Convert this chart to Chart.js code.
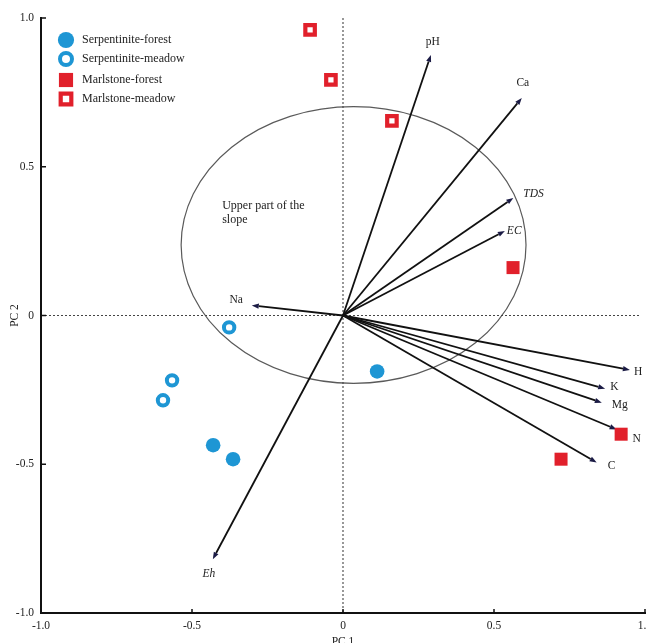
<!DOCTYPE html>
<html>
<head>
<meta charset="utf-8">
<script src="https://cdn.jsdelivr.net/npm/chart.js@4.4.1/dist/chart.umd.min.js"></script>
<style>
  html, body { margin: 0; padding: 0; background: #fff; }
  #wrap { width: 646px; height: 643px; position: relative; }
</style>
</head>
<body>
<div id="wrap"><canvas id="pca"></canvas></div>
<script>
// Axis ticks
const tickValues = [-1, -0.5, 0, 0.5, 1];
const tickLabels = ['-1.0', '-0.5', '0', '0.5', '1.0'];

// Sample scores (PC 1, PC 2)
const serpForestPC1 = [0.113, -0.430, -0.364];
const serpForestPC2 = [-0.188, -0.436, -0.483];
const serpMeadowPC1 = [-0.377, -0.566, -0.596];
const serpMeadowPC2 = [-0.040, -0.218, -0.285];
const marlForestPC1 = [0.563, 0.921, 0.722];
const marlForestPC2 = [0.161, -0.399, -0.483];
const marlMeadowPC1 = [-0.109, -0.040, 0.162];
const marlMeadowPC2 = [0.960, 0.792, 0.654];

// Variable loadings drawn as arrows from the origin
const loadingNames = ['pH', 'Ca', 'TDS', 'EC', 'H', 'K', 'Mg', 'N', 'C', 'Na', 'Eh'];
const loadingPC1 = [0.291, 0.592, 0.564, 0.536, 0.950, 0.868, 0.857, 0.906, 0.840, -0.302, -0.431];
const loadingPC2 = [0.876, 0.731, 0.395, 0.284, -0.183, -0.246, -0.293, -0.383, -0.494, 0.034, -0.819];

// Group ellipse (centre and semi-axes in PC units) and its caption
const slopeCentre = [0.035, 0.237];
const slopeRadii = [0.571, 0.465];
const slopeCaption = ['Upper part of the', 'slope'];

const SERIF = '"Liberation Serif", "Times New Roman", serif';
const BLUE = '#1e96d4';
const RED = '#e1202b';

function pairs(xs, ys) { return xs.map((x, i) => ({ x, y: ys[i] })); }

// Label placement per arrow: [dx, dy, align, italic]
const labelStyle = {
  pH:  [2, -13, 'center', false],
  Ca:  [1, -15, 'center', false],
  TDS: [10, -4, 'left', true],
  EC:  [2, 0, 'left', true],
  H:   [4, 2, 'left', false],
  K:   [5, -2, 'left', false],
  Mg:  [10, 2, 'left', false],
  N:   [16, 10, 'left', false],
  C:   [11, 4, 'left', false],
  Na:  [-9, -5, 'right', false],
  Eh:  [-4, 15, 'center', true]
};

const biplotPlugin = {
  id: 'biplot',
  beforeDatasetsDraw(chart) {
    const { ctx, scales: { x, y }, chartArea } = chart;
    ctx.save();

    // ellipse around the upper-slope samples
    const cx = x.getPixelForValue(slopeCentre[0]);
    const cy = y.getPixelForValue(slopeCentre[1]);
    const rx = Math.abs(x.getPixelForValue(slopeCentre[0] + slopeRadii[0]) - cx);
    const ry = Math.abs(y.getPixelForValue(slopeCentre[1] + slopeRadii[1]) - cy);
    ctx.beginPath();
    ctx.ellipse(cx, cy, rx, ry, 0, 0, Math.PI * 2);
    ctx.strokeStyle = '#5a5a5a';
    ctx.lineWidth = 1.2;
    ctx.stroke();

    // dotted zero lines
    const x0 = x.getPixelForValue(0);
    const y0 = y.getPixelForValue(0);
    ctx.setLineDash([2, 2]);
    ctx.strokeStyle = '#444';
    ctx.lineWidth = 1.1;
    ctx.beginPath();
    ctx.moveTo(x0, chartArea.top);
    ctx.lineTo(x0, chartArea.bottom);
    ctx.moveTo(chartArea.left, y0);
    ctx.lineTo(chartArea.right - 5, y0);
    ctx.stroke();
    ctx.setLineDash([]);

    // caption inside the ellipse
    ctx.fillStyle = '#222';
    ctx.font = '12px ' + SERIF;
    ctx.textAlign = 'left';
    ctx.textBaseline = 'middle';
    const capX = x.getPixelForValue(-0.40);
    const capY = y.getPixelForValue(0.37);
    slopeCaption.forEach((line, i) => ctx.fillText(line, capX, capY + i * 14));

    // loading arrows
    loadingNames.forEach((name, i) => {
      const tx = x.getPixelForValue(loadingPC1[i]);
      const ty = y.getPixelForValue(loadingPC2[i]);
      const ang = Math.atan2(ty - y0, tx - x0);
      const head = 7, half = 2.6;
      const bx = tx - head * Math.cos(ang);
      const by = ty - head * Math.sin(ang);
      ctx.beginPath();
      ctx.moveTo(x0, y0);
      ctx.lineTo(bx, by);
      ctx.strokeStyle = '#111';
      ctx.lineWidth = 1.8;
      ctx.stroke();
      ctx.beginPath();
      ctx.moveTo(tx, ty);
      ctx.lineTo(bx - half * Math.sin(ang), by + half * Math.cos(ang));
      ctx.lineTo(bx + half * Math.sin(ang), by - half * Math.cos(ang));
      ctx.closePath();
      ctx.fillStyle = '#1b1b45';
      ctx.fill();

      const st = labelStyle[name];
      ctx.font = (st[3] ? 'italic ' : '') + '11.5px ' + SERIF;
      ctx.textAlign = st[2];
      ctx.textBaseline = 'middle';
      ctx.fillStyle = '#222';
      ctx.fillText(name, tx + st[0], ty + st[1]);
    });
    ctx.restore();
  },
  afterDraw(chart) {
    const { ctx, scales: { x, y }, chartArea } = chart;
    ctx.save();
    // inward tick marks
    ctx.strokeStyle = '#111';
    ctx.lineWidth = 1.5;
    ctx.beginPath();
    x.ticks.forEach(t => {
      const px = x.getPixelForValue(t.value);
      ctx.moveTo(px, chartArea.bottom);
      ctx.lineTo(px, chartArea.bottom - 4);
    });
    y.ticks.forEach(t => {
      const py = y.getPixelForValue(t.value);
      ctx.moveTo(chartArea.left, py);
      ctx.lineTo(chartArea.left + 5, py);
    });
    ctx.stroke();

    // legend in the upper-left corner
    const lx = 66, ly = [40, 59, 80, 99];
    chart.data.datasets.forEach((ds, i) => {
      ctx.fillStyle = ds.backgroundColor;
      ctx.strokeStyle = ds.borderColor;
      ctx.lineWidth = ds.borderWidth;
      Chart.helpers.drawPoint(ctx, {
        pointStyle: ds.pointStyle,
        radius: ds.pointRadius + 0.8,
        rotation: 0,
        borderWidth: ds.borderWidth
      }, lx, ly[i]);
      ctx.fillStyle = '#222';
      ctx.font = '12px ' + SERIF;
      ctx.textAlign = 'left';
      ctx.textBaseline = 'middle';
      ctx.fillText(ds.label, lx + 16, ly[i]);
    });
    ctx.restore();
  }
};

const tickCallback = v => {
  const idx = tickValues.findIndex(t => Math.abs(t - v) < 1e-9);
  return idx >= 0 ? tickLabels[idx] : '';
};

new Chart(document.getElementById('pca'), {
  type: 'scatter',
  data: {
    datasets: [
      { label: 'Serpentinite-forest', data: pairs(serpForestPC1, serpForestPC2),
        pointStyle: 'circle', pointRadius: 7.3, pointHoverRadius: 7.3,
        backgroundColor: BLUE, borderColor: BLUE, borderWidth: 0 },
      { label: 'Serpentinite-meadow', data: pairs(serpMeadowPC1, serpMeadowPC2),
        pointStyle: 'circle', pointRadius: 5.2, pointHoverRadius: 5.2,
        backgroundColor: '#fff', borderColor: BLUE, borderWidth: 4 },
      { label: 'Marlstone-forest', data: pairs(marlForestPC1, marlForestPC2),
        pointStyle: 'rect', pointRadius: 9.2, pointHoverRadius: 9.2,
        backgroundColor: RED, borderColor: RED, borderWidth: 0 },
      { label: 'Marlstone-meadow', data: pairs(marlMeadowPC1, marlMeadowPC2),
        pointStyle: 'rect', pointRadius: 6.7, pointHoverRadius: 6.7,
        backgroundColor: '#fff', borderColor: RED, borderWidth: 4.2 }
    ]
  },
  options: {
    responsive: true,
    maintainAspectRatio: false,
    animation: false,
    events: [],
    layout: { autoPadding: false, padding: { top: 18, right: 1, left: 0, bottom: 0 } },
    plugins: { legend: { display: false }, tooltip: { enabled: false } },
    scales: {
      x: {
        type: 'linear', min: -1, max: 1,
        afterBuildTicks: s => { s.ticks = tickValues.map(v => ({ value: v })); },
        afterFit: s => { s.height = 30; s.paddingLeft = 0; s.paddingRight = 0; },
        grid: { display: true, drawOnChartArea: false, drawTicks: false },
        border: { display: true, color: '#111', width: 2 },
        ticks: { padding: 6, color: '#222', font: { family: SERIF, size: 11.5 },
                 callback: tickCallback, maxRotation: 0, autoSkip: false },
        title: { display: true, text: 'PC 1', color: '#222',
                 font: { family: SERIF, size: 11.5 }, padding: { top: 0, bottom: -6 } }
      },
      y: {
        type: 'linear', min: -1, max: 1,
        afterBuildTicks: s => { s.ticks = tickValues.map(v => ({ value: v })); },
        afterFit: s => { s.width = 41; s.paddingTop = 0; s.paddingBottom = 0; },
        grid: { display: true, drawOnChartArea: false, drawTicks: false },
        border: { display: true, color: '#111', width: 2 },
        ticks: { padding: 7, color: '#222', font: { family: SERIF, size: 11.5 },
                 callback: tickCallback, autoSkip: false },
        title: { display: true, text: 'PC 2', color: '#222',
                 font: { family: SERIF, size: 11.5 }, padding: { top: 8, bottom: 0 } }
      }
    }
  },
  plugins: [biplotPlugin]
});
</script>
</body>
</html>
